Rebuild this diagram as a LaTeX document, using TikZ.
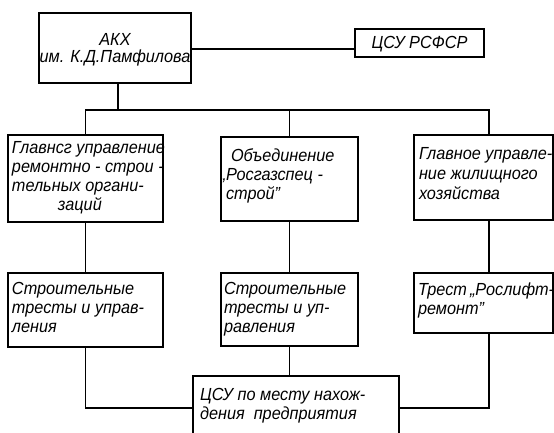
\documentclass[tikz,border=0pt]{standalone}
\usepackage{fontspec}
\setmainfont{Liberation Sans}[FakeStretch=0.93]
\usetikzlibrary{calc}
\newcommand{\bxt}[5]{\parbox[c][#2][t]{#1}{\vspace*{#3}\noindent\hspace*{#4}\begin{tabular}[t]{@{}l@{}}#5\end{tabular}}}
\newcommand{\bxc}[4]{\parbox[c][#2][t]{#1}{\vspace*{#3}\centering\begin{tabular}[t]{@{}c@{}}#4\end{tabular}\par}}
\tikzset{
  box/.style={draw, line width=1.5pt, inner sep=0pt, outer sep=0pt, anchor=north west,
    font=\itshape\fontsize{17.5}{19}\selectfont},
  conn/.style={line width=1.5pt}
}
\begin{document}
\begin{tikzpicture}[x=1pt,y=-1pt]
\useasboundingbox (0,0) rectangle (554,433);
\fill[white] (0,0) rectangle (554,433);
\clip (0,0) rectangle (554,433);
\node[box] (akx) at (39,13) {\bxc{152pt}{70pt}{19pt}{АКХ\\[-2pt]им. К.Д.Памфилова}};
\node[box] (csu) at (355,29) {\bxc{129pt}{28pt}{6pt}{ЦСУ РСФСР}};
\node[box] (l1) at (8,135) {\bxt{155pt}{87pt}{5pt}{4pt}{Главнсг управление\\ремонтно - строи -\\тельных органи-\\\hspace*{46pt}заций}};
\node[box] (m1) at (221,137) {\bxt{137pt}{84pt}{11pt}{5pt}{\hspace*{5pt}Объединение\\\llap{„}Росгазспец -\\строй"}};
\node[box] (r1) at (414,135) {\bxt{139pt}{85pt}{11pt}{5pt}{Главное управле-\\[1pt]ние жилищного\\[1pt]хозяйства}};
\node[box] (l2) at (8,273) {\bxt{155pt}{74pt}{8pt}{4pt}{Строительные\\тресты и управ-\\ления}};
\node[box] (m2) at (221,273) {\bxt{137pt}{73pt}{8pt}{3pt}{Строительные\\тресты и уп-\\равления}};
\node[box] (r2) at (414,273) {\bxt{139pt}{60pt}{9pt}{4pt}{Трест\hspace{3pt}„Рослифт-\\ремонт"}};
\node[box] (bot) at (193,376) {\bxt{206pt}{70pt}{11pt}{7pt}{ЦСУ по месту нахож-\\дения\ \ предприятия}};
\coordinate (cl) at (0,49);
\coordinate (bar) at (0,110);
\coordinate (low) at (0,408);
\draw[conn] (akx.east |- cl) -- (csu.west |- cl);
\draw[conn] ([xshift=3pt]akx.south) -- ([xshift=3pt]akx.south |- bar);
\draw[conn] (l1.north) -- (l1.north |- bar) -- ([xshift=5.5pt]r1.north |- bar) -- ([xshift=5.5pt]r1.north);
\draw[conn] (m1.north) -- (m1.north |- bar);
\draw[conn] (l1.south) -- (l2.north);
\draw[conn] (m1.south) -- (m2.north);
\draw[conn] ([xshift=5.5pt]r1.south) -- ([xshift=5.5pt]r2.north);
\draw[conn] (l2.south) -- (l2.south |- low) -- (bot.west |- low);
\draw[conn] (m2.south) -- (m2.south |- bot.north);
\draw[conn] ([xshift=5.5pt]r2.south) -- ([xshift=5.5pt]r2.south |- low) -- (bot.east |- low);
\end{tikzpicture}
\end{document}
